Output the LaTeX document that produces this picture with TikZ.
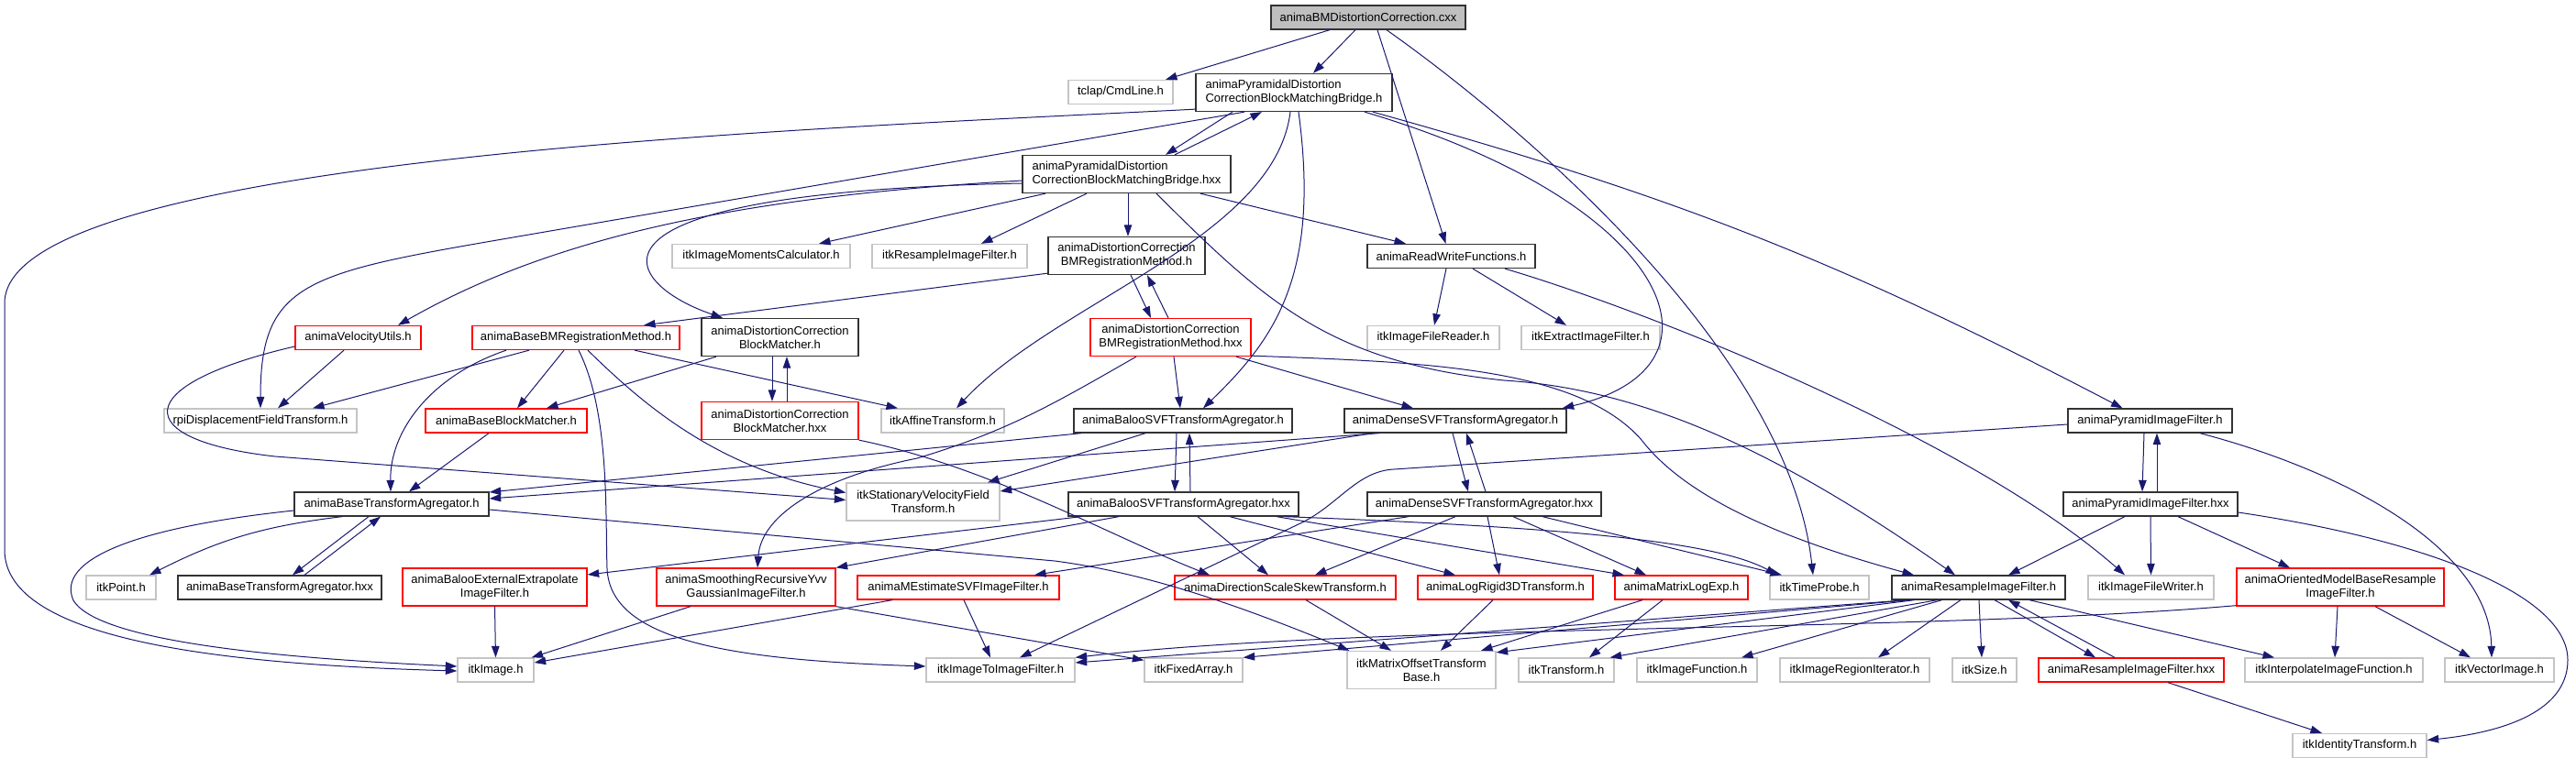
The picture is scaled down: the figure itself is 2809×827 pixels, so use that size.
\documentclass[tikz,border=0pt]{standalone}
\usepackage{fontspec}
\setmainfont{Liberation Sans}
\usepackage{tikz}
\usetikzlibrary{arrows.meta}
\definecolor{edgeblue}{HTML}{191970}
\definecolor{extgray}{HTML}{C4C4C4}
\definecolor{rootgray}{HTML}{BFBFBF}
\definecolor{truncred}{HTML}{FF0000}
\begin{document}
\begin{tikzpicture}[
  x=1pt, y=-1pt,
  font=\fontsize{13pt}{15pt}\selectfont,
  hdr/.style={rectangle, line width=1.3pt, inner sep=0pt, minimum height=26pt, align=center},
  ext/.style={hdr, draw=extgray},
  loc/.style={hdr, draw=black!80},
  trunc/.style={hdr, draw=truncred},
  rootfile/.style={hdr, draw=black!80, fill=rootgray},
  tall/.style={minimum height=41pt},
  dep/.style={-{Triangle[length=12.5pt,width=8.5pt]}, line width=1pt, edgeblue},
]
  \useasboundingbox (0,0) rectangle (2809,827);

  % row 0 and 1
  \node[rootfile, minimum width=212pt] (cxx) at (1492,19) {animaBMDistortionCorrection.cxx};
  \node[ext, minimum width=114pt] (cmdline) at (1222,100.5) {tclap/CmdLine.h};
  \node[loc, tall, minimum width=214pt, align=left] (bridge) at (1411,101) {animaPyramidalDistortion\\CorrectionBlockMatchingBridge.h};
  \node[loc, tall, minimum width=227pt, align=left] (bridgex) at (1228.5,190) {animaPyramidalDistortion\\CorrectionBlockMatchingBridge.hxx};

  % row 2 and 3
  \node[ext, minimum width=194pt] (moments) at (830,279.5) {itkImageMomentsCalculator.h};
  \node[ext, minimum width=169pt] (itkresample) at (1035.5,279.5) {itkResampleImageFilter.h};
  \node[loc, tall, minimum width=171pt] (dcbm) at (1228.5,279) {animaDistortionCorrection\\BMRegistrationMethod.h};
  \node[loc, minimum width=183pt] (readwrite) at (1582.5,279.5) {animaReadWriteFunctions.h};
  \node[trunc, tall, minimum width=175pt] (dcbmx) at (1276.5,368) {animaDistortionCorrection\\BMRegistrationMethod.hxx};
  \node[ext, minimum width=144pt] (reader) at (1563,368.5) {itkImageFileReader.h};
  \node[ext, minimum width=151pt] (extract) at (1734.5,368.5) {itkExtractImageFilter.h};
  \node[trunc, minimum width=137pt] (velutils) at (390.5,368.5) {animaVelocityUtils.h};
  \node[trunc, minimum width=226pt] (basebm) at (628,368.5) {animaBaseBMRegistrationMethod.h};
  \node[loc, tall, minimum width=171pt] (dcmatch) at (850.5,368) {animaDistortionCorrection\\BlockMatcher.h};

  % row 4
  \node[ext, minimum width=210pt] (rpi) at (284,459) {rpiDisplacementFieldTransform.h};
  \node[trunc, minimum width=176pt] (baseblock) at (552,459) {animaBaseBlockMatcher.h};
  \node[trunc, tall, minimum width=171pt] (dcmatchx) at (850.5,459) {animaDistortionCorrection\\BlockMatcher.hxx};
  \node[ext, minimum width=134pt] (affine) at (1028,459) {itkAffineTransform.h};
  \node[loc, minimum width=238pt] (baloo) at (1290,459) {animaBalooSVFTransformAgregator.h};
  \node[loc, minimum width=242pt] (dense) at (1587,459) {animaDenseSVFTransformAgregator.h};
  \node[loc, minimum width=179pt] (pyr) at (2344.5,459) {animaPyramidImageFilter.h};

  % row 5
  \node[ext, tall, minimum width=167pt] (svf) at (1006.5,547.5) {itkStationaryVelocityField\\Transform.h};
  \node[loc, minimum width=212pt] (basetr) at (427,550) {animaBaseTransformAgregator.h};
  \node[loc, minimum width=251pt] (baloox) at (1290.5,550) {animaBalooSVFTransformAgregator.hxx};
  \node[loc, minimum width=255pt] (densex) at (1618.5,550) {animaDenseSVFTransformAgregator.hxx};
  \node[loc, minimum width=190pt] (pyrx) at (2345,550) {animaPyramidImageFilter.hxx};

  % row 6
  \node[ext, minimum width=76pt] (itkpoint) at (132,641) {itkPoint.h};
  \node[loc, minimum width=222pt] (basetrx) at (305,641) {animaBaseTransformAgregator.hxx};
  \node[trunc, tall, minimum width=201pt] (extrap) at (539.5,640.5) {animaBalooExternalExtrapolate\\ImageFilter.h};
  \node[trunc, tall, minimum width=195pt] (yvv) at (813.5,640.5) {animaSmoothingRecursiveYvv\\GaussianImageFilter.h};
  \node[trunc, minimum width=220pt] (mestim) at (1045,641) {animaMEstimateSVFImageFilter.h};
  \node[trunc, minimum width=241pt] (dss) at (1401.5,641) {animaDirectionScaleSkewTransform.h};
  \node[trunc, minimum width=191pt] (logrigid) at (1641.5,641) {animaLogRigid3DTransform.h};
  \node[trunc, minimum width=145pt] (matlog) at (1833.5,641) {animaMatrixLogExp.h};
  \node[ext, minimum width=108pt] (timeprobe) at (1984,641) {itkTimeProbe.h};
  \node[loc, minimum width=189pt] (resample) at (2157.5,641) {animaResampleImageFilter.h};
  \node[ext, minimum width=137pt] (writer) at (2345.5,641) {itkImageFileWriter.h};
  \node[trunc, tall, minimum width=226pt] (oriented) at (2552,640.5) {animaOrientedModelBaseResample\\ImageFilter.h};

  % row 7 and 8
  \node[ext, minimum width=83pt] (itkimage) at (540.5,731) {itkImage.h};
  \node[ext, minimum width=162pt] (imgtoimg) at (1091,731) {itkImageToImageFilter.h};
  \node[ext, minimum width=107pt] (fixedarr) at (1301.5,731) {itkFixedArray.h};
  \node[ext, tall, minimum width=162pt] (matoff) at (1550,731) {itkMatrixOffsetTransform\\Base.h};
  \node[ext, minimum width=104pt] (itktransform) at (1708,731) {itkTransform.h};
  \node[ext, minimum width=131pt] (imgfunc) at (1850.5,731) {itkImageFunction.h};
  \node[ext, minimum width=163pt] (regiter) at (2022.5,731) {itkImageRegionIterator.h};
  \node[ext, minimum width=70pt] (itksize) at (2164,731) {itkSize.h};
  \node[trunc, minimum width=202pt] (resamplex) at (2324,731) {animaResampleImageFilter.hxx};
  \node[ext, minimum width=194pt] (interp) at (2545,731) {itkInterpolateImageFunction.h};
  \node[ext, minimum width=119pt] (vecimg) at (2725.5,731) {itkVectorImage.h};
  \node[ext, minimum width=146pt] (identity) at (2573,813.5) {itkIdentityTransform.h};

  % source file
  \draw[dep] ([xshift=-42pt]cxx.south) -- ([xshift=49pt]cmdline.north);
  \draw[dep] ([xshift=-14pt]cxx.south) -- ([xshift=21pt]bridge.north);
  \draw[dep] ([xshift=10pt]cxx.south) -- ([xshift=-6pt]readwrite.north);
  \draw[dep] ([xshift=20pt]cxx.south) .. controls (1650,130) and (1950,380) .. ([xshift=-7pt]timeprobe.north);

  % bridge header
  \draw[dep] ([yshift=3pt]bridge.south west) .. controls (900,140) and (8,170) .. (5,330) -- (5,600) .. controls (5,700) and (250,725) .. ([yshift=-1pt]itkimage.west);
  \draw[dep] ([xshift=-54pt]bridge.south) -- (600,252) .. controls (340,297) and (284,300) .. (rpi.north);
  \draw[dep] ([xshift=-67pt]bridge.south) -- ([xshift=42.5pt]bridgex.north);
  \draw[dep] ([xshift=52.5pt]bridgex.north) -- ([xshift=-35pt]bridge.south);
  \draw[dep] ([xshift=-4pt]bridge.south) .. controls (1390,260) and (1150,330) .. ([xshift=15pt]affine.north);
  \draw[dep] ([xshift=5pt]bridge.south) .. controls (1440,300) and (1390,370) .. ([xshift=22pt]baloo.north);
  \draw[dep] ([xshift=77pt]bridge.south) .. controls (1820,220) and (1900,400) .. ([xshift=-5pt]dense.north east);
  \draw[dep] ([xshift=86pt]bridge.south) to[bend left=6] ([xshift=-30pt]pyr.north);

  % bridge implementation
  \draw[dep] ([yshift=-7pt]bridgex.west) .. controls (800,215) and (600,260) .. ([xshift=43.5pt]velutils.north);
  \draw[dep] ([yshift=-10pt]bridgex.west) .. controls (600,210) and (680,310) .. ([xshift=-62.5pt]dcmatch.north);
  \draw[dep] ([xshift=-88.5pt]bridgex.south) -- ([xshift=63pt]moments.north);
  \draw[dep] ([xshift=-43.5pt]bridgex.south) -- ([xshift=34.5pt]itkresample.north);
  \draw[dep] ([xshift=1.5pt]bridgex.south) -- ([xshift=1.5pt]dcbm.north);
  \draw[dep] ([xshift=80.5pt]bridgex.south) -- ([xshift=-49.5pt]readwrite.north);
  \draw[dep] ([xshift=32.5pt]bridgex.south) .. controls (1380,330) and (1450,395) .. (1640,415) .. controls (1800,425) and (1950,500) .. ([xshift=-25.5pt]resample.north);

  % registration method
  \draw[dep] ([yshift=2pt]dcbm.south west) -- ([xshift=74pt]basebm.north);
  \draw[dep] ([xshift=4.5pt]dcbm.south) -- ([xshift=-21.5pt]dcbmx.north);
  \draw[dep] ([xshift=-2.5pt]dcbmx.north) -- ([xshift=22.5pt]dcbm.south);
  \draw[dep] ([xshift=-37.5pt]dcbmx.south) .. controls (1150,440) and (1100,470) .. (1000,500) .. controls (900,520) and (830,560) .. ([xshift=12.5pt]yvv.north);
  \draw[dep] ([xshift=3.5pt]dcbmx.south) -- ([xshift=-3pt]baloo.north);
  \draw[dep] ([xshift=71.5pt]dcbmx.south) -- ([xshift=-46pt]dense.north);
  \draw[dep] ([yshift=1pt]dcbmx.south east) .. controls (1550,395) and (1720,400) .. (1790,480) .. controls (1840,545) and (1950,590) .. ([xshift=-70.5pt]resample.north);

  % read and write
  \draw[dep] ([xshift=-5.5pt]readwrite.south) -- ([xshift=1pt]reader.north);
  \draw[dep] ([xshift=23.5pt]readwrite.south) -- ([xshift=-26.5pt]extract.north);
  \draw[dep] ([xshift=58.5pt]readwrite.south) .. controls (1800,340) and (2150,480) .. ([xshift=-28.5pt]writer.north);

  % velocity utils
  \draw[dep] ([xshift=-15.5pt]velutils.south) -- ([xshift=19pt]rpi.north);
  \draw[dep] ([yshift=-9.5pt]velutils.west) .. controls (140,420) and (140,480) .. (300,498) -- ([yshift=2pt]svf.west);

  % base registration method
  \draw[dep] ([xshift=-76pt]basebm.south) .. controls (470,410) and (425,470) .. ([xshift=-1pt]basetr.north);
  \draw[dep] ([xshift=-51pt]basebm.south) -- ([xshift=57pt]rpi.north);
  \draw[dep] ([xshift=-13pt]basebm.south) -- ([xshift=12pt]baseblock.north);
  \draw[dep] ([xshift=3pt]basebm.south) .. controls (665,450) and (660,560) .. (662,620) .. controls (665,700) and (800,720) .. ([yshift=4pt]imgtoimg.west);
  \draw[dep] ([xshift=13pt]basebm.south) .. controls (700,440) and (780,510) .. ([yshift=10pt]svf.west);
  \draw[dep] ([xshift=64pt]basebm.south) -- ([xshift=-49pt]affine.north);

  % block matchers
  \draw[dep] ([xshift=-69.5pt]dcmatch.south) -- ([xshift=44pt]baseblock.north);
  \draw[dep] ([xshift=-8.5pt]dcmatch.south) -- ([xshift=-8.5pt]dcmatchx.north);
  \draw[dep] ([xshift=7.5pt]dcmatchx.north) -- ([xshift=7.5pt]dcmatch.south);
  \draw[dep] (dcmatchx.south east) .. controls (1080,510) and (1200,580) .. ([xshift=-82.5pt]dss.north);
  \draw[dep] ([xshift=-19pt]baseblock.south) -- ([xshift=19pt]basetr.north);

  % SVF agregators
  \draw[dep] ([xshift=-111pt]baloo.south) -- ([yshift=13pt]basetr.east);
  \draw[dep] ([xshift=-41pt]baloo.south) -- ([xshift=70.5pt]svf.north);
  \draw[dep] ([xshift=-7pt]baloo.south) -- ([xshift=-9.5pt]baloox.north);
  \draw[dep] ([xshift=7.5pt]baloox.north) -- ([xshift=7pt]baloo.south);
  \draw[dep] ([xshift=-83pt]dense.south) -- ([yshift=6pt]basetr.east);
  \draw[dep] ([xshift=-90pt]dense.south) -- ([yshift=11.5pt]svf.east);
  \draw[dep] ([xshift=-3pt]dense.south) -- ([xshift=-17.5pt]densex.north);
  \draw[dep] ([xshift=1.5pt]densex.north) -- ([xshift=12pt]dense.south);

  % pyramid filter
  \draw[dep] ([yshift=-4pt]pyr.west) -- (1520,512) .. controls (1480,514) and (1460,550) .. (1420,570) -- ([xshift=21pt]imgtoimg.north);
  \draw[dep] ([xshift=-6.5pt]pyr.south) -- ([xshift=-9pt]pyrx.north);
  \draw[dep] ([xshift=7pt]pyrx.north) -- ([xshift=7.5pt]pyr.south);
  \draw[dep] ([xshift=54.5pt]pyr.south) .. controls (2560,515) and (2715,600) .. ([xshift=-8.5pt]vecimg.north);

  % base transform agregator
  \draw[dep] ([xshift=-54pt]basetr.south) to[bend right=10] ([xshift=31pt]itkpoint.north);
  \draw[dep] ([xshift=-25pt]basetr.south) -- ([xshift=14pt]basetrx.north);
  \draw[dep] ([xshift=27pt]basetrx.north) -- ([xshift=-12pt]basetr.south);
  \draw[dep] ([yshift=-7pt]basetr.west) .. controls (150,575) and (60,610) .. (80,655) .. controls (110,705) and (350,720) .. ([yshift=4pt]itkimage.west);
  \draw[dep] ([yshift=-6pt]basetr.east) -- (1150,612) .. controls (1250,625) and (1350,660) .. ([xshift=3pt]matoff.north west);

  % baloo implementation
  \draw[dep] ([xshift=-111.5pt]baloox.south) -- ([yshift=13.5pt]extrap.east);
  \draw[dep] ([xshift=-70.5pt]baloox.south) -- (yvv.north east);
  \draw[dep] ([xshift=15.5pt]baloox.south) -- ([xshift=-18.5pt]dss.north);
  \draw[dep] ([xshift=50.5pt]baloox.south) -- ([xshift=-54.5pt]logrigid.north);
  \draw[dep] ([xshift=101.5pt]baloox.south) -- ([xshift=-62.5pt]matlog.north);
  \draw[dep] ([xshift=111pt]baloox.south) .. controls (1700,575) and (1870,590) .. ([xshift=-46pt]timeprobe.north);

  % dense implementation
  \draw[dep] ([xshift=-82.5pt]densex.south) -- ([xshift=83pt]mestim.north);
  \draw[dep] ([xshift=-31.5pt]densex.south) -- ([xshift=32.5pt]dss.north);
  \draw[dep] ([xshift=3.5pt]densex.south) -- ([xshift=-6.5pt]logrigid.north);
  \draw[dep] ([xshift=31.5pt]densex.south) -- ([xshift=-38.5pt]matlog.north);
  \draw[dep] ([xshift=63.5pt]densex.south) -- ([xshift=-41pt]timeprobe.north);

  % pyramid implementation
  \draw[dep] ([xshift=-28pt]pyrx.south) -- ([xshift=32.5pt]resample.north);
  \draw[dep] (pyrx.south) -- (writer.north);
  \draw[dep] ([xshift=30pt]pyrx.south) -- ([xshift=-55pt]oriented.north);
  \draw[dep] ([yshift=-9pt]pyrx.east) .. controls (2650,590) and (2800,650) .. (2800,720) .. controls (2800,780) and (2720,800) .. ([yshift=6pt]identity.east);

  % filters and transforms
  \draw[dep] (extrap.south) -- (itkimage.north);
  \draw[dep] ([xshift=-60.5pt]yvv.south) -- ([xshift=-3pt]itkimage.north east);
  \draw[dep] (yvv.south east) -- ([yshift=-3pt]fixedarr.north west);
  \draw[dep] ([xshift=6pt]mestim.south) -- ([xshift=-11pt]imgtoimg.north);
  \draw[dep] ([xshift=-72pt]mestim.south) -- ([yshift=8pt]itkimage.east);
  \draw[dep] ([xshift=22.5pt]dss.south) -- ([xshift=-33pt]matoff.north);
  \draw[dep] ([xshift=-13.5pt]logrigid.south) -- ([xshift=21pt]matoff.north);
  \draw[dep] ([xshift=-42.5pt]matlog.south) -- ([xshift=65pt]matoff.north);
  \draw[dep] ([xshift=-20.5pt]matlog.south) -- ([xshift=25pt]itktransform.north);

  % resample filter
  \draw[dep] ([xshift=-78pt]resample.south) -- ([yshift=8pt]imgtoimg.east);
  \draw[dep] ([xshift=-74pt]resample.south) -- (fixedarr.north east);
  \draw[dep] ([xshift=-70pt]resample.south) -- ([yshift=-2pt]matoff.north east);
  \draw[dep] ([xshift=-45pt]resample.south) -- ([xshift=-5pt]itktransform.north east);
  \draw[dep] ([xshift=-40pt]resample.south) -- ([xshift=48.5pt]imgfunc.north);
  \draw[dep] ([xshift=-19.5pt]resample.south) -- ([xshift=25.5pt]regiter.north);
  \draw[dep] ([xshift=0.5pt]resample.south) -- ([xshift=-3pt]itksize.north);
  \draw[dep] ([xshift=17.5pt]resample.south) -- ([xshift=-39pt]resamplex.north);
  \draw[dep] ([xshift=-18pt]resamplex.north) -- ([xshift=32.5pt]resample.south);
  \draw[dep] ([xshift=55.5pt]resample.south) -- ([xshift=-65pt]interp.north);
  \draw[dep] ([xshift=40pt]resamplex.south) -- ([xshift=-41pt]identity.north);

  % oriented model filter
  \draw[dep] ([xshift=-3pt]oriented.south) -- ([xshift=1pt]interp.north);
  \draw[dep] ([xshift=38pt]oriented.south) -- ([xshift=-31.5pt]vecimg.north);
  \draw[dep] ([yshift=1pt]oriented.south west) .. controls (2100,690) and (1500,680) .. (imgtoimg.north east);
\end{tikzpicture}
\end{document}
